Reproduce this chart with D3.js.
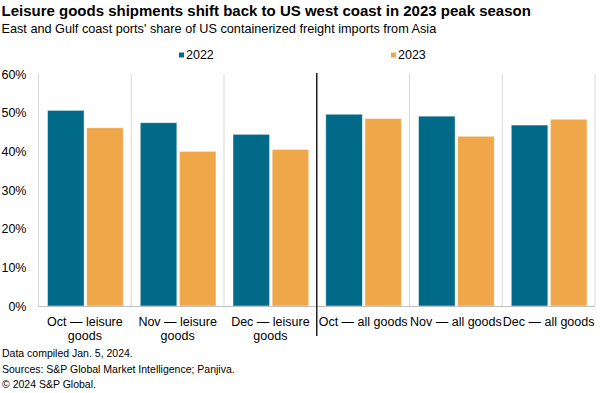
<!DOCTYPE html>
<html>
<head>
<meta charset="utf-8">
<script src="https://cdn.jsdelivr.net/npm/d3@7"></script>
<style>
  body { margin: 0; background: #fff; }
  svg { font-family: "Liberation Sans", Arial, sans-serif; }
  .title { font-weight: bold; font-size: 15px; fill: #000; }
  .subtitle { font-size: 12.7px; fill: #000; }
  .tick text { font-size: 12.5px; fill: #000; }
  .note { font-size: 10.5px; fill: #000; }
</style>
</head>
<body>
<svg class="chart" width="600" height="393"></svg>
<script>
var categories = [
    ['Oct \u2014 leisure', 'goods'],
    ['Nov \u2014 leisure', 'goods'],
    ['Dec \u2014 leisure', 'goods'],
    ['Oct \u2014 all goods'],
    ['Nov \u2014 all goods'],
    ['Dec \u2014 all goods']
];
var series = ['2022', '2023'];
var values2022 = [50.6, 47.4, 44.4, 49.6, 49.1, 46.8];
var values2023 = [46.1, 40.0, 40.5, 48.5, 43.9, 48.3];
var yTicks = [0, 10, 20, 30, 40, 50, 60];
var notes = ['Data compiled Jan. 5, 2024.', 'Sources: S&P Global Market Intelligence; Panjiva.', '\u00a9 2024 S&P Global.'];

(function() {
    var p = {};
        p.left = 38.5;
        p.right = 595;
        p.top = 74;
        p.bottom = 306;
        p.colors = ['#006a88', '#f0a74a'];

    var svg = d3.select('.chart');

    svg.append('text').attr('class', 'title')
        .attr('x', 1.5).attr('y', 16)
        .text('Leisure goods shipments shift back to US west coast in 2023 peak season');
    svg.append('text').attr('class', 'subtitle')
        .attr('x', 1.5).attr('y', 33)
        .text("East and Gulf coast ports' share of US containerized freight imports from Asia");

    //-----  Legend  -----//
    var legendX = [179, 391];
    series.forEach(function(s, i) {
        svg.append('rect')
            .attr('x', legendX[i]).attr('y', 52.5)
            .attr('width', 5).attr('height', 5)
            .attr('fill', p.colors[i]);
        svg.append('text')
            .attr('x', legendX[i] + 7).attr('y', 58.5)
            .attr('font-size', 12.5)
            .text(s);
    });

    //-----  Scales  -----//
    var idx = d3.range(categories.length);
    var x = d3.scaleBand().domain(idx).range([p.left, p.right]);
    var x1 = d3.scaleBand().domain(series).range([9, x.bandwidth() - 8]).paddingInner(0.065);
    var y = d3.scaleLinear().domain([0, 60]).range([p.bottom, p.top]);

    //-----  Vertical gridlines  -----//
    svg.append('g').selectAll('line')
        .data(d3.range(categories.length + 1))
        .enter().append('line')
            .attr('x1', function(d) { return d === categories.length ? p.right : x(d); })
            .attr('x2', function(d) { return d === categories.length ? p.right : x(d); })
            .attr('y1', p.top).attr('y2', p.bottom)
            .attr('stroke', '#d9d9d9').attr('stroke-width', 1);

    //-----  Y axis labels  -----//
    var yAxis = svg.append('g')
        .attr('transform', 'translate(' + p.left + ',0)')
        .call(d3.axisLeft(y).tickValues(yTicks)
            .tickFormat(function(d) { return d + '%'; })
            .tickSize(0).tickPadding(12));
    yAxis.select('.domain').remove();
    yAxis.selectAll('.tick text').attr('font-family', null).attr('font-size', null);

    //-----  Bars  -----//
    var groups = svg.append('g').selectAll('g')
        .data(idx)
        .enter().append('g')
            .attr('transform', function(d) { return 'translate(' + x(d) + ',0)'; });
    groups.selectAll('rect')
        .data(function(d) { return [values2022[d], values2023[d]]; })
        .enter().append('rect')
            .attr('x', function(v, i) { return x1(series[i]); })
            .attr('y', function(v) { return y(v); })
            .attr('width', x1.bandwidth())
            .attr('height', function(v) { return p.bottom - y(v); })
            .attr('fill', function(v, i) { return p.colors[i]; })
            .attr('stroke', 'rgba(255,255,255,0.6)')
            .attr('stroke-width', 0.8);

    //-----  X axis  -----//
    svg.append('line')
        .attr('x1', p.left).attr('x2', p.right)
        .attr('y1', p.bottom + 0.5).attr('y2', p.bottom + 0.5)
        .attr('stroke', '#bfbfbf').attr('stroke-width', 1);

    var xLabels = svg.append('g').selectAll('text')
        .data(idx)
        .enter().append('text')
            .attr('text-anchor', 'middle')
            .attr('font-size', 12.5)
            .attr('x', function(d) { return x(d) + x.bandwidth() / 2; })
            .attr('y', 326);
    xLabels.selectAll('tspan')
        .data(function(d) { return categories[d]; })
        .enter().append('tspan')
            .attr('x', function() { return d3.select(this.parentNode).attr('x'); })
            .attr('dy', function(t, i) { return i ? 13.5 : 0; })
            .text(function(t) { return t; });

    //-----  Divider  -----//
    svg.append('line')
        .attr('x1', x(3)).attr('x2', x(3))
        .attr('y1', p.top - 1).attr('y2', 336)
        .attr('stroke', '#222').attr('stroke-width', 1.5);

    //-----  Notes  -----//
    svg.append('g').selectAll('text')
        .data(notes)
        .enter().append('text')
            .attr('class', 'note')
            .attr('x', 2)
            .attr('y', function(d, i) { return 357 + i * 15.5; })
            .text(function(d) { return d; });
})();
</script>
</body>
</html>
